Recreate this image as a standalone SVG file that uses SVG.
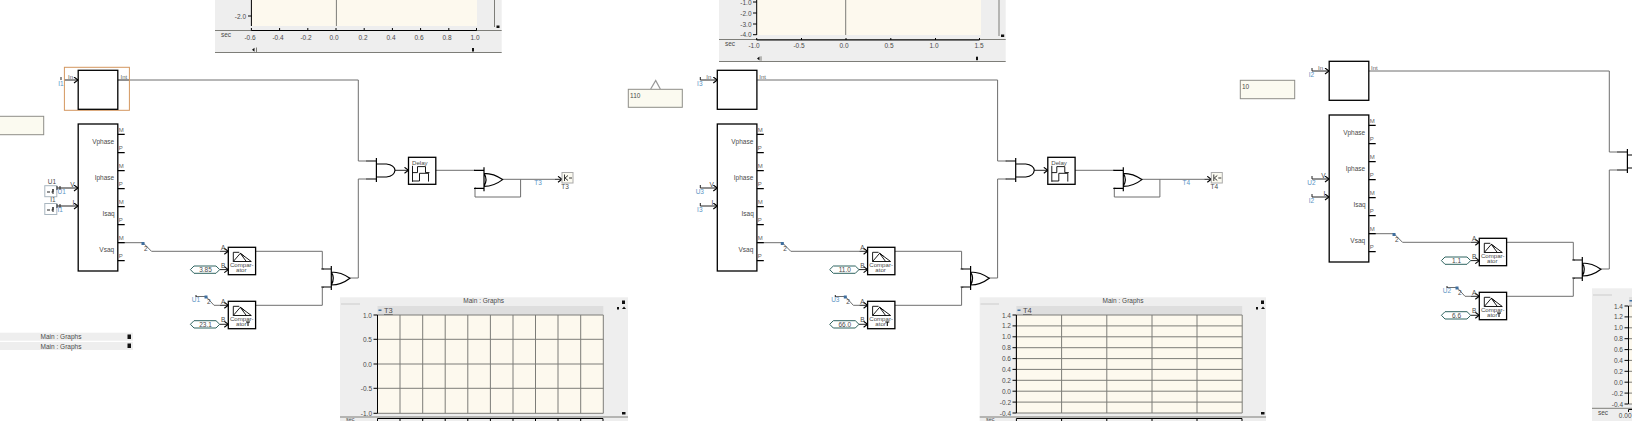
<svg xmlns="http://www.w3.org/2000/svg" width="1632" height="421" viewBox="0 0 1632 421">
<style>
text{font-family:"Liberation Sans",Arial,sans-serif;font-size:6.5px;fill:#4a4a4a}
.c{text-anchor:middle}.r{text-anchor:end}
.b{fill:#5b93c4}
.p{font-size:6px;fill:#666}
.s{font-size:6.1px}
.k{fill:none;stroke:#000;stroke-width:1.2}
.box{fill:#fff;stroke:#000;stroke-width:1.3}
.w{fill:none;stroke:#6e6e6e;stroke-width:1}
.in{fill:none;stroke:#222;stroke-width:1}
.panel{fill:#eeeeee}
.plot{fill:#fdf9ee}
.grid{fill:none;stroke:#7d7d78;stroke-width:1}
.note{fill:#fbfaf0;stroke:#8e8e88;stroke-width:1}
.cst{fill:#fff;stroke:#2f6460;stroke-width:1}
.sq{fill:#3f6f9f}
.btn{fill:#111}
</style>
<defs>
<marker id="ah" markerUnits="userSpaceOnUse" markerWidth="6" markerHeight="7" refX="5" refY="3.5" orient="auto"><path d="M1,0.5L5,3.5L1,6.5" fill="none" stroke="#000" stroke-width="1.1"/></marker>
<g id="and"><path class="k" d="M0,-3V21M-10,0H0M-10,18H0M0,3H10Q18,4 18.6,9.3Q18,15 10,16H0"/></g>
<g id="or"><path class="k" d="M0,-3V21M-10,0H0M-10,18H0M0,3Q10,3 18.6,9.3Q10,16 0,16M0,3Q4,9 0,16"/></g>
<g id="cmp"><rect class="box" width="27.3" height="27.4"/><path d="M5,14.2V5H11M5,14.2H23M5,14.2L12,6L23,14.2M12,6L18,14.2M12,6L16,9" fill="none" stroke="#000" stroke-width="0.9"/><text class="c s" x="13.5" y="19.5">Compar-</text><text class="c s" x="13" y="25">ator</text></g>
<g id="dly"><rect class="box" width="27.3" height="27"/><text class="s" x="3.5" y="7.5">Delay</text><path d="M4,8.5V24.5M4,15.3H9V9.3H17V15.3H21M4,23.7H11V16H20V24.3" fill="none" stroke="#000" stroke-width="0.9"/></g>
<g id="seq"><rect class="box" width="39.6" height="147"/><path class="k" d="M39.6,10.3H46.5M39.6,28.7H46.5M39.6,46.7H46.5M39.6,64.7H46.5M39.6,82.7H46.5M39.6,100.7H46.5M39.6,118.7H46.5M39.6,136.7H46.5"/>
<text class="p" x="40.5" y="8">M</text><text class="p" x="40.5" y="26">P</text><text class="p" x="40.5" y="44">M</text><text class="p" x="40.5" y="62">P</text><text class="p" x="40.5" y="80">M</text><text class="p" x="40.5" y="98">P</text><text class="p" x="40.5" y="116">M</text><text class="p" x="40.5" y="134">P</text>
<text class="r" x="36" y="19.5">Vphase</text><text class="r" x="36" y="56">Iphase</text><text class="r" x="36.5" y="92">Isaq</text><text class="r" x="36" y="127.5">Vsaq</text>
<text x="-5" y="62.5" class="r" dx="1.5">V</text><text x="-5" y="80.5" class="r" dx="1">I</text></g>
</defs>
<rect width="1632" height="421" fill="#fff"/>

<g id="graph-top-1">
<rect class="panel" x="215" y="0" width="286.7" height="52.7"/>
<rect class="plot" x="251.4" y="0" width="225.6" height="26"/>
<path class="grid" d="M336.4,0V26M494.5,0V27M215,30.5H501.7M215,52.5H501.7"/>
<path d="M251.4,0V26M248,16H251.4M251.4,30.5H476.5M251.4,28V30.5M279.6,28V30.5M307.8,28V30.5M336,28V30.5M364.2,28V30.5M392.4,28V30.5M420.6,28V30.5M448.8,28V30.5M476.5,28V30.5" fill="none" stroke="#000" stroke-width="1"/>
<text class="r" x="246" y="18.5">-2.0</text><text x="221" y="37">sec</text>
<text class="c" x="250" y="39.5">-0.6</text><text class="c" x="278" y="39.5">-0.4</text><text class="c" x="306" y="39.5">-0.2</text><text class="c" x="334" y="39.5">0.0</text><text class="c" x="363" y="39.5">0.2</text><text class="c" x="391" y="39.5">0.4</text><text class="c" x="419" y="39.5">0.6</text><text class="c" x="447" y="39.5">0.8</text><text class="c" x="475" y="39.5">1.0</text>
<rect class="btn" x="496.5" y="25.5" width="3" height="2.5"/>
<path class="btn" d="M252,49.7L254.5,47.7V51.7Z"/><path class="grid" d="M256.5,47.5V52"/><rect class="btn" x="472" y="48" width="2" height="3.5"/>
</g>

<g id="graph-top-2">
<rect class="panel" x="719" y="0" width="286.7" height="61.7"/>
<rect class="plot" x="756.7" y="0" width="224.3" height="35"/>
<path class="grid" d="M845.7,0V35M999,0V36M719,39.5H1005.7M719,61.5H1005.7"/>
<path d="M756.7,0V35M753,2H756.7M753,13H756.7M753,24H756.7M753,34.7H756.7M756.7,40H979.5M756.7,38V40M801.5,38V40M846,38V40M890.8,38V40M935.5,38V40M979.5,38V40" fill="none" stroke="#000" stroke-width="1"/>
<text class="r" x="751.5" y="4.5">-1.0</text><text class="r" x="751.5" y="15.5">-2.0</text><text class="r" x="751.5" y="26.5">-3.0</text><text class="r" x="751.5" y="37">-4.0</text>
<text x="725" y="46">sec</text>
<text class="c" x="754" y="48">-1.0</text><text class="c" x="799" y="48">-0.5</text><text class="c" x="844" y="48">0.0</text><text class="c" x="889" y="48">0.5</text><text class="c" x="934" y="48">1.0</text><text class="c" x="979" y="48">1.5</text>
<rect class="btn" x="1001" y="34.5" width="3.2" height="2.5"/>
<path class="btn" d="M757,58.5L759.5,56.5V60.5Z"/><path class="grid" d="M761,56.3V60.8"/><rect class="btn" x="976" y="56.7" width="2" height="3.5"/>
</g>

<g id="graph-bottom-1">
<rect class="panel" x="340" y="297.3" width="288" height="123.7"/>
<text class="c" x="483.7" y="303">Main : Graphs</text>
<path d="M341,304H360" stroke="#ccc" fill="none"/>
<rect x="377.5" y="306" width="225.8" height="9" fill="#dedede"/>
<rect class="sq" x="378.5" y="309.5" width="3" height="1.5"/>
<text x="384" y="313" style="text-decoration:underline;font-size:7.5px">T3</text>
<rect class="plot" x="377.5" y="315" width="225.8" height="98.3"/>
<path class="grid" d="M377.5,315V413.3M400,315V413.3M422.7,315V413.3M445.2,315V413.3M467.8,315V413.3M490.4,315V413.3M513,315V413.3M535.5,315V413.3M558,315V413.3M580.7,315V413.3M603.3,315V413.3M377.5,315H603.3M377.5,339.3H603.3M377.5,364H603.3M377.5,388.3H603.3M377.5,413.3H603.3M340,417H628"/>
<path d="M377.5,315V413.3M373.5,315H377.5M373.5,339.3H377.5M373.5,364H377.5M373.5,388.3H377.5M373.5,413.3H377.5M377.5,418.5H603M400,418.5V421M422.7,418.5V421M445.2,418.5V421M467.8,418.5V421M490.4,418.5V421M513,418.5V421M535.5,418.5V421M558,418.5V421M580.7,418.5V421M603,418.5V421M377.5,418.5V421" fill="none" stroke="#000" stroke-width="1"/>
<text class="r" x="372" y="317.5">1.0</text><text class="r" x="372" y="341.8">0.5</text><text class="r" x="372" y="366.5">0.0</text><text class="r" x="372" y="390.8">-0.5</text><text class="r" x="372" y="415.8">-1.0</text>
<text x="346" y="420.5" style="font-size:5.5px">sec</text>
<rect class="btn" x="622" y="300.5" width="3" height="3.5"/><rect class="btn" x="617" y="307" width="2" height="2.5"/><path class="btn" d="M624,306.5L626,309H622Z"/><rect class="btn" x="622" y="412" width="3.5" height="2.5"/>
</g>

<g id="graph-bottom-2">
<rect class="panel" x="979.7" y="297.3" width="286.3" height="123.7"/>
<text class="c" x="1123" y="303">Main : Graphs</text>
<path d="M980.5,304H999" stroke="#ccc" fill="none"/>
<rect x="1016.4" y="306" width="225.8" height="9" fill="#dedede"/>
<rect class="sq" x="1017.5" y="309.5" width="3" height="1.5"/>
<text x="1023" y="313" style="text-decoration:underline;font-size:7.5px">T4</text>
<rect class="plot" x="1016.4" y="315" width="225.8" height="98"/>
<path class="grid" d="M1016.4,315V413M1061.6,315V413M1106.8,315V413M1152,315V413M1197,315V413M1242.2,315V413M1016.4,315H1242.2M1016.4,325.9H1242.2M1016.4,336.8H1242.2M1016.4,347.7H1242.2M1016.4,358.6H1242.2M1016.4,369.4H1242.2M1016.4,380.3H1242.2M1016.4,391.2H1242.2M1016.4,402.1H1242.2M1016.4,413H1242.2M979.7,417H1266"/>
<path d="M1016.4,315V413M1012.5,315H1016.4M1012.5,325.9H1016.4M1012.5,336.8H1016.4M1012.5,347.7H1016.4M1012.5,358.6H1016.4M1012.5,369.4H1016.4M1012.5,380.3H1016.4M1012.5,391.2H1016.4M1012.5,402.1H1016.4M1012.5,413H1016.4M1016.4,418.5H1242M1016.4,418.5V421M1061.6,418.5V421M1106.8,418.5V421M1152,418.5V421M1197,418.5V421M1242,418.5V421" fill="none" stroke="#000" stroke-width="1"/>
<text class="r" x="1011" y="317.5">1.4</text><text class="r" x="1011" y="328.4">1.2</text><text class="r" x="1011" y="339.3">1.0</text><text class="r" x="1011" y="350.2">0.8</text><text class="r" x="1011" y="361.1">0.6</text><text class="r" x="1011" y="371.9">0.4</text><text class="r" x="1011" y="382.8">0.2</text><text class="r" x="1011" y="393.7">0.0</text><text class="r" x="1011" y="404.6">-0.2</text><text class="r" x="1011" y="415.5">-0.4</text>
<text x="986" y="420.5" style="font-size:5.5px">sec</text>
<rect class="btn" x="1261" y="300.5" width="3" height="3.5"/><rect class="btn" x="1256" y="307" width="2" height="2.5"/><path class="btn" d="M1263,306.5L1265,309H1261Z"/><rect class="btn" x="1261" y="412" width="3.5" height="2.5"/>
</g>

<g id="graph-bottom-3">
<rect class="panel" x="1592" y="288.3" width="40" height="132.7"/>
<path d="M1593,295H1612" stroke="#ccc" fill="none"/>
<rect x="1629" y="297" width="3" height="9" fill="#dedede"/>
<rect class="sq" x="1629.5" y="300" width="2.5" height="1.5"/>
<rect class="plot" x="1629" y="306" width="3" height="98"/>
<path class="grid" d="M1592,408.3H1632M1629,306H1632M1629,316.9H1632M1629,327.8H1632M1629,338.7H1632M1629,349.6H1632M1629,360.4H1632M1629,371.3H1632M1629,382.2H1632M1629,393.1H1632M1629,404H1632"/>
<path d="M1628.5,306V404M1624.5,306H1628.5M1624.5,316.9H1628.5M1624.5,327.8H1628.5M1624.5,338.7H1628.5M1624.5,349.6H1628.5M1624.5,360.4H1628.5M1624.5,371.3H1628.5M1624.5,382.2H1628.5M1624.5,393.1H1628.5M1624.5,404H1628.5M1628.5,409.5H1632M1628.5,409.5V412" fill="none" stroke="#000" stroke-width="1"/>
<text class="r" x="1623" y="308.5">1.4</text><text class="r" x="1623" y="319.4">1.2</text><text class="r" x="1623" y="330.3">1.0</text><text class="r" x="1623" y="341.2">0.8</text><text class="r" x="1623" y="352.1">0.6</text><text class="r" x="1623" y="362.9">0.4</text><text class="r" x="1623" y="373.8">0.2</text><text class="r" x="1623" y="384.7">0.0</text><text class="r" x="1623" y="395.6">-0.2</text><text class="r" x="1623" y="406.5">-0.4</text>
<text x="1598" y="415">sec</text><text class="r" x="1631.5" y="417.5">0.00</text>
</g>

<g id="graph-bars-left">
<rect class="panel" x="0" y="332.7" width="133" height="8"/><rect class="panel" x="0" y="342" width="133" height="8"/>
<text class="c" x="61" y="339">Main : Graphs</text><text class="c" x="61" y="348.5">Main : Graphs</text>
<rect class="btn" x="127.5" y="334.5" width="3.5" height="4.5"/><rect class="btn" x="127.5" y="343.5" width="3.5" height="4.5"/>
</g>

<g id="note-left"><rect class="note" x="-2" y="116.3" width="45.7" height="18.4"/></g>
<g id="note-110"><rect class="note" x="628.3" y="89.3" width="54" height="18"/><path d="M650.7,89L655.7,80.5L660.3,89" fill="none" stroke="#999" stroke-width="1.3"/><text x="630" y="97.5">110</text></g>
<g id="note-10"><rect class="note" x="1240.3" y="80.3" width="54.4" height="18.4"/><text x="1242" y="88.5">10</text></g>

<g id="connectors">
<g id="wires-1">
<path class="w" d="M129.5,80H358.3V161H367"/><path class="w" d="M358.3,278V179H367"/>
<path class="w" d="M118,242.7H143L151.5,251.3H220"/><path class="in" d="M220,251.3H228.3" marker-end="url(#ah)"/>
<path class="w" d="M255.5,251.3H322.3V269H324"/><path class="w" d="M255.5,305.3H322.3V287.3H324"/>
<path class="w" d="M349.5,278H358.3"/>
<path class="w" d="M435.6,170.3H475"/><path class="w" d="M502.4,179.3H555"/><path class="w" d="M520.6,179.3V197H475V188H476"/>
<path class="in" d="M395,170.3H408.5" marker-end="url(#ah)"/><path class="in" d="M555,179.3H562" marker-end="url(#ah)"/>
<path class="in" d="M64,80H78" marker-end="url(#ah)"/><path class="in" d="M117.8,80H129.5"/>
<path class="in" d="M57,188H78" marker-end="url(#ah)"/><path class="in" d="M57,206H78" marker-end="url(#ah)"/>
<path class="in" d="M219.7,269.6H228.3" marker-end="url(#ah)"/><path class="in" d="M219.7,324.3H228.3" marker-end="url(#ah)"/>
<path class="w" d="M196,296.5H206L214,305.3H220"/><path class="in" d="M220,305.3H228.3" marker-end="url(#ah)"/>
</g>
<g id="wires-2" transform="translate(639.3,0)">
<path class="w" d="M117.8,80H358.3V161H367"/><path class="w" d="M358.3,278V179H367"/>
<path class="w" d="M118,242.7H143L151.5,251.3H220"/><path class="in" d="M220,251.3H228.3" marker-end="url(#ah)"/>
<path class="w" d="M255.5,251.3H322.3V269H324"/><path class="w" d="M255.5,305.3H322.3V287.3H324"/>
<path class="w" d="M349.5,278H358.3"/>
<path class="w" d="M435.6,170.3H475"/><path class="w" d="M502.4,179.3H565"/><path class="w" d="M520.6,179.3V197H475V188H476"/>
<path class="in" d="M395,170.3H408.5" marker-end="url(#ah)"/><path class="in" d="M565,179.3H572" marker-end="url(#ah)"/>
<path class="in" d="M61,80H78" marker-end="url(#ah)"/><path class="in" d="M61,188H78" marker-end="url(#ah)"/><path class="in" d="M61,206H78" marker-end="url(#ah)"/>
<path class="in" d="M219.7,269.6H228.3" marker-end="url(#ah)"/><path class="in" d="M219.7,324.3H228.3" marker-end="url(#ah)"/>
<path class="w" d="M196,296.5H206L214,305.3H220"/><path class="in" d="M220,305.3H228.3" marker-end="url(#ah)"/>
</g>
<g id="wires-3" transform="translate(1251,-9)">
<path class="w" d="M117.8,80H358.3V161H367"/><path class="w" d="M358.3,278V179H367"/>
<path class="w" d="M118,242.7H143L151.5,251.3H220"/><path class="in" d="M220,251.3H228.3" marker-end="url(#ah)"/>
<path class="w" d="M255.5,251.3H322.3V269H324"/><path class="w" d="M255.5,305.3H322.3V287.3H324"/>
<path class="w" d="M349.5,278H358.3"/>
<path class="in" d="M61,80H78" marker-end="url(#ah)"/><path class="in" d="M61,188H78" marker-end="url(#ah)"/><path class="in" d="M61,206H78" marker-end="url(#ah)"/>
<path class="in" d="M219.7,269.6H228.3" marker-end="url(#ah)"/><path class="in" d="M219.7,324.3H228.3" marker-end="url(#ah)"/>
<path class="w" d="M196,296.5H206L214,305.3H220"/><path class="in" d="M220,305.3H228.3" marker-end="url(#ah)"/>
</g>
</g>

<g id="section-1">
<g id="rms-1"><rect x="64.4" y="67.3" width="65" height="43" fill="none" stroke="#d4975f" stroke-width="1"/><rect class="box" x="78.2" y="70.3" width="39.6" height="39"/><text class="p" x="68" y="79">In</text><text class="p" x="120.5" y="79">Int</text><path class="in" d="M61,77V80"/><text class="b c" x="61" y="86">I1</text></g>
<use id="seq-1" href="#seq" x="78.2" y="124"/>
<g id="src-u1"><rect x="44.8" y="185.7" width="12" height="11" fill="#fff" stroke="#a9b6bf"/><path d="M47,192H50M51.5,192H53V189M53,189V194M57,186V190" fill="none" stroke="#222"/><path class="in" d="M60,186V190"/><text class="c" x="52" y="183.5">U1</text><text class="b" x="57.5" y="194">U1</text></g>
<g id="src-i1"><rect x="44.8" y="203.5" width="12" height="11" fill="#fff" stroke="#a9b6bf"/><path d="M47,210H50M51.5,210H53V207M53,207V212M57,204V208" fill="none" stroke="#222"/><path class="in" d="M60,204V208"/><text class="c" x="53" y="201.5">I1</text><text class="b" x="57.5" y="212">I1</text></g>
<g id="brk-1a"><rect class="sq" x="141.5" y="242" width="3" height="3"/><text x="144" y="250.5">2</text></g>
<g id="cmp-1a"><use href="#cmp" x="228.3" y="247.3"/><text x="221" y="250">A</text><text x="221" y="267.5">B</text></g>
<g id="const-1a"><path class="cst" d="M194,266H216L219.7,269.6L216,273.3H194L190.4,269.6Z"/><text class="c" x="205.5" y="272">3.85</text></g>
<g id="brk-1b"><path class="in" d="M196,295V297"/><text class="b c" x="196" y="301.5">U1</text><rect class="sq" x="204.5" y="295.5" width="3" height="3"/><text x="207" y="304">2</text></g>
<g id="cmp-1b"><use href="#cmp" x="228.3" y="301.3"/><path d="M246,322H250M248,322V326" stroke="#000" fill="none"/><text x="221" y="304">A</text><text x="221" y="322">B</text></g>
<g id="const-1b"><path class="cst" d="M194,320.7H216L219.7,324.3L216,328H194L190.4,324.3Z"/><text class="c" x="205.5" y="326.7">23.1</text></g>
<use id="or-1a" href="#or" x="331.3" y="269"/>
<use id="and-1" href="#and" x="376.4" y="161"/>
<use id="dly-1" href="#dly" x="408.5" y="157.3"/>
<use id="or-1b" href="#or" x="484" y="170.3"/>
<text class="b c" x="538" y="185">T3</text>
<g id="out-t3"><rect x="562" y="172.5" width="11" height="10.5" fill="#fbfaf0" stroke="#aaa"/><path d="M564.5,174.5V181M565,178L568,175.5M565,178L568,180.5M569,178H572" fill="none" stroke="#222" stroke-width=".9"/><text class="c" x="565" y="189">T3</text></g>
</g>

<g id="section-2" transform="translate(639.3,0)">
<g id="rms-2"><rect class="box" x="78" y="70.3" width="39.6" height="39"/><text class="p" x="67" y="79">In</text><text class="p" x="120" y="79">Int</text><path class="in" d="M61,77V80"/><text class="b c" x="60.5" y="86">I3</text></g>
<use id="seq-2" href="#seq" x="78" y="124"/>
<g id="lbl-u3"><path class="in" d="M61,185V188"/><text class="b c" x="60.5" y="194">U3</text></g>
<g id="lbl-i3"><path class="in" d="M61,203V206"/><text class="b c" x="60.5" y="212">I3</text></g>
<g id="brk-2a"><rect class="sq" x="141.5" y="242" width="3" height="3"/><text x="144" y="250.5">2</text></g>
<g id="cmp-2a"><use href="#cmp" x="228.3" y="247.3"/><text x="221" y="250">A</text><text x="221" y="267.5">B</text></g>
<g id="const-2a"><path class="cst" d="M194,266H216L219.7,269.6L216,273.3H194L190.4,269.6Z"/><text class="c" x="205.5" y="272">11.0</text></g>
<g id="brk-2b"><path class="in" d="M196,295V297"/><text class="b c" x="196" y="301.5">U3</text><rect class="sq" x="204.5" y="295.5" width="3" height="3"/><text x="207" y="304">2</text></g>
<g id="cmp-2b"><use href="#cmp" x="228.3" y="301.3"/><path d="M246,322H250M248,322V326" stroke="#000" fill="none"/><text x="221" y="304">A</text><text x="221" y="322">B</text></g>
<g id="const-2b"><path class="cst" d="M194,320.7H216L219.7,324.3L216,328H194L190.4,324.3Z"/><text class="c" x="205.5" y="326.7">66.0</text></g>
<use id="or-2a" href="#or" x="331.3" y="269"/>
<use id="and-2" href="#and" x="376.4" y="161"/>
<use id="dly-2" href="#dly" x="408.5" y="157.3"/>
<use id="or-2b" href="#or" x="484" y="170.3"/>
<text class="b c" x="547" y="185">T4</text>
<g id="out-t4"><rect x="572" y="172.5" width="11" height="10.5" fill="#fbfaf0" stroke="#aaa"/><path d="M574.5,174.5V181M575,178L578,175.5M575,178L578,180.5M579,178H582" fill="none" stroke="#222" stroke-width=".9"/><text class="c" x="575" y="189">T4</text></g>
</g>

<g id="section-3" transform="translate(1251,-9)">
<g id="rms-3"><rect class="box" x="78.2" y="70.3" width="39.6" height="39"/><text class="p" x="67" y="79">In</text><text class="p" x="120" y="79">Int</text><path class="in" d="M61,77V80"/><text class="b c" x="60.5" y="86">I2</text></g>
<use id="seq-3" href="#seq" x="78.2" y="124"/>
<g id="lbl-u2"><path class="in" d="M61,185V188"/><text class="b c" x="60.5" y="194">U2</text></g>
<g id="lbl-i2"><path class="in" d="M61,203V206"/><text class="b c" x="60.5" y="212">I2</text></g>
<g id="brk-3a"><rect class="sq" x="141.5" y="242" width="3" height="3"/><text x="144" y="250.5">2</text></g>
<g id="cmp-3a"><use href="#cmp" x="228.3" y="247.3"/><text x="221" y="250">A</text><text x="221" y="267.5">B</text></g>
<g id="const-3a"><path class="cst" d="M194,266H216L219.7,269.6L216,273.3H194L190.4,269.6Z"/><text class="c" x="205.5" y="272">1.1</text></g>
<g id="brk-3b"><path class="in" d="M196,295V297"/><text class="b c" x="196" y="301.5">U2</text><rect class="sq" x="204.5" y="295.5" width="3" height="3"/><text x="207" y="304">2</text></g>
<g id="cmp-3b"><use href="#cmp" x="228.3" y="301.3"/><path d="M246,322H250M248,322V326" stroke="#000" fill="none"/><text x="221" y="304">A</text><text x="221" y="322">B</text></g>
<g id="const-3b"><path class="cst" d="M194,320.7H216L219.7,324.3L216,328H194L190.4,324.3Z"/><text class="c" x="205.5" y="326.7">6.6</text></g>
<use id="or-3a" href="#or" x="331.3" y="269"/>
<use id="and-3" href="#and" x="376.4" y="161"/>
</g>
</svg>
